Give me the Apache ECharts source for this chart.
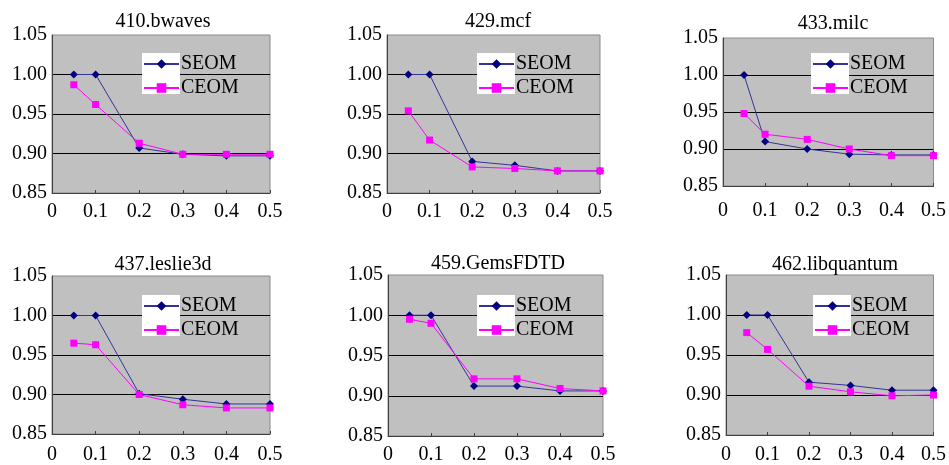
<!DOCTYPE html>
<html>
<head>
<meta charset="utf-8">
<script src="https://cdn.jsdelivr.net/npm/echarts@6/dist/echarts.min.js"></script>
<style>
  html, body { margin: 0; padding: 0; background: #fff; }
  #chart { width: 949px; height: 465px; }
</style>
</head>
<body>
<div id="chart"></div>
<script>
// x positions of the measured points
const xValues = [0.05, 0.1, 0.2, 0.3, 0.4, 0.5]
const yTicks = [0.85, 0.90, 0.95, 1.00, 1.05]
const benchmarks = ['410.bwaves', '429.mcf', '433.milc', '437.leslie3d', '459.GemsFDTD', '462.libquantum']

const seom410 = [1.000, 1.000, 0.907, 0.899, 0.897, 0.897]
const ceom410 = [0.987, 0.962, 0.913, 0.899, 0.899, 0.899]
const seom429 = [1.000, 1.000, 0.890, 0.885, 0.878, 0.878]
const ceom429 = [0.954, 0.917, 0.883, 0.881, 0.878, 0.878]
const seom433 = [1.000, 0.910, 0.900, 0.893, 0.892, 0.892]
const ceom433 = [0.948, 0.920, 0.913, 0.900, 0.891, 0.891]
const seom437 = [1.000, 1.000, 0.901, 0.894, 0.888, 0.888]
const ceom437 = [0.965, 0.963, 0.900, 0.887, 0.883, 0.883]
const seom459 = [1.000, 1.000, 0.912, 0.912, 0.906, 0.906]
const ceom459 = [0.995, 0.990, 0.921, 0.921, 0.909, 0.906]
const seom462 = [1.000, 1.000, 0.916, 0.912, 0.906, 0.906]
const ceom462 = [0.978, 0.957, 0.911, 0.904, 0.899, 0.900]

const seomData = [seom410, seom429, seom433, seom437, seom459, seom462]
const ceomData = [ceom410, ceom429, ceom433, ceom437, ceom459, ceom462]

// panel layout (pixels)
const panels = [
  { left: 52,  top: 35,  width: 218, height: 158, titleX: 158, titleY: 7,   lx: 142, ly: 53,  xMargin: 9 },
  { left: 387, top: 35,  width: 213, height: 158, titleX: 493, titleY: 7,   lx: 477, ly: 53,  xMargin: 9 },
  { left: 723, top: 38,  width: 217, height: 148, titleX: 828, titleY: 9,   lx: 811, ly: 53,  xMargin: 15 },
  { left: 52,  top: 276, width: 218, height: 158, titleX: 158, titleY: 250, lx: 142, ly: 295, xMargin: 11 },
  { left: 388, top: 275, width: 215, height: 161, titleX: 493, titleY: 249, lx: 477, ly: 295, xMargin: 9 },
  { left: 726, top: 275, width: 217, height: 160, titleX: 830, titleY: 250, lx: 813, ly: 295, xMargin: 10 }
]

const font = 'Liberation Serif'
const seomLine = '#333399'
const seomMark = '#000080'
const ceomColor = '#ff00ff'

const chart = echarts.init(document.getElementById('chart'), null, { renderer: 'canvas' })

const title = [], grid = [], xAxis = [], yAxis = [], series = [], legend = [], graphic = []

panels.forEach((p, i) => {
  title.push({
    text: benchmarks[i], left: p.titleX, top: p.titleY, textAlign: 'center',
    textStyle: { fontFamily: font, fontSize: 20, fontWeight: 'normal', color: '#000' }
  })
  grid.push({
    left: p.left, top: p.top, width: p.width, height: p.height,
    show: true, backgroundColor: '#c0c0c0', borderColor: '#8a8a8a', borderWidth: 1
  })
  xAxis.push({
    type: 'value', gridIndex: i, min: 0, max: 0.5, interval: 0.1,
    axisLine: { show: true, lineStyle: { color: '#404040', width: 1 } },
    axisTick: { show: true, inside: true, length: 3, lineStyle: { color: '#404040' } },
    axisLabel: {
      margin: p.xMargin, color: '#000', fontFamily: font, fontSize: 20,
      formatter: v => v === 0 ? '0' : v.toFixed(1)
    },
    splitLine: { show: false }
  })
  yAxis.push({
    type: 'value', gridIndex: i, min: yTicks[0], max: yTicks[yTicks.length - 1], interval: 0.05,
    axisLine: { show: true, lineStyle: { color: '#404040', width: 1 } },
    axisTick: { show: false },
    axisLabel: { margin: 5, color: '#000', fontFamily: font, fontSize: 20, formatter: v => v.toFixed(2) },
    splitLine: { show: true, showMinLine: false, showMaxLine: false, lineStyle: { color: '#000', width: 1 } }
  })
  series.push({
    name: 'SEOM', type: 'line', xAxisIndex: i, yAxisIndex: i,
    data: xValues.map((x, k) => [x, seomData[i][k]]),
    symbol: 'diamond', symbolSize: 8,
    lineStyle: { color: seomLine, width: 1 },
    itemStyle: { color: seomMark },
    animation: false
  })
  series.push({
    name: 'CEOM', type: 'line', xAxisIndex: i, yAxisIndex: i,
    data: xValues.map((x, k) => [x, ceomData[i][k]]),
    symbol: 'rect', symbolSize: 7,
    lineStyle: { color: ceomColor, width: 1 },
    itemStyle: { color: ceomColor },
    animation: false
  })
  legend.push({
    orient: 'vertical', left: p.lx + 1, top: p.ly + 1, padding: 0,
    itemWidth: 35, itemHeight: 12, itemGap: 4,
    data: ['SEOM', 'CEOM'],
    textStyle: { fontFamily: font, fontSize: 20, color: '#000', padding: [0, 0, 0, -3] }
  })
  // white patch behind the legend keys
  graphic.push({
    type: 'rect', left: p.lx, top: p.ly, z: 3,
    shape: { width: 38, height: 41 }, style: { fill: '#fff' }
  })
})

chart.setOption({
  backgroundColor: '#fff',
  animation: false,
  title, grid, xAxis, yAxis, series, legend, graphic
})
</script>
</body>
</html>
